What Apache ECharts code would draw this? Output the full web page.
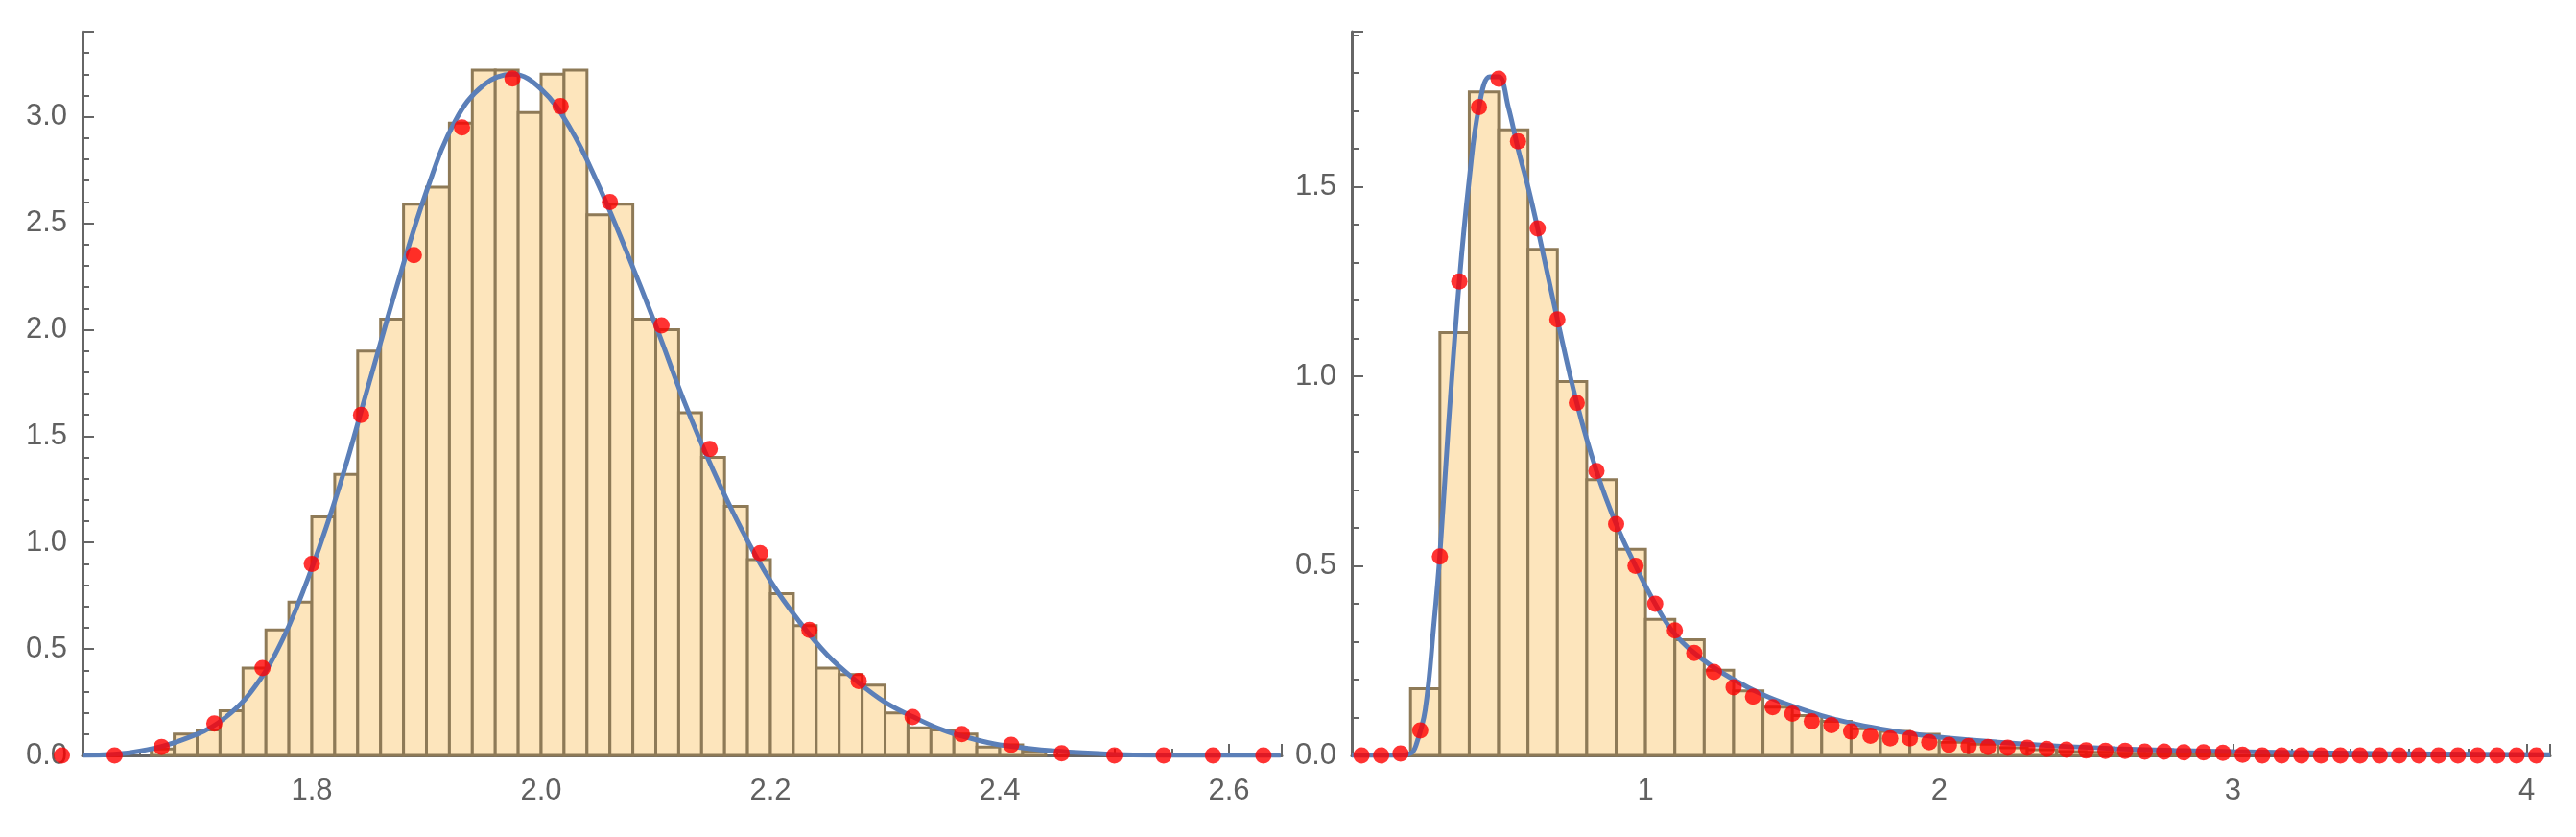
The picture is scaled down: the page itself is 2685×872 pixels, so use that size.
<!DOCTYPE html>
<html><head><meta charset="utf-8">
<script src="https://cdn.jsdelivr.net/npm/echarts@6/dist/echarts.min.js"></script>
<style>html,body{margin:0;padding:0;background:#fff}#c{width:2685px;height:872px}</style>
</head><body><div id="c"></div>
<script>
// Left histogram: bin starts (width 0.02) and heights
const leftBinStart = [1.66,1.68,1.70,1.72,1.74,1.76,1.78,1.80,1.82,1.84,1.86,1.88,1.90,1.92,1.94,1.96,1.98,2.00,2.02,2.04,2.06,2.08,2.10,2.12,2.14,2.16,2.18,2.20,2.22,2.24,2.26,2.28,2.30,2.32,2.34,2.36,2.38,2.40,2.42];
const leftBinHeight = [0.03,0.10,0.12,0.21,0.41,0.59,0.72,1.12,1.32,1.90,2.05,2.59,2.67,2.97,3.22,3.22,3.02,3.20,3.22,2.54,2.59,2.05,2.00,1.61,1.40,1.17,0.92,0.76,0.61,0.41,0.38,0.33,0.20,0.13,0.12,0.10,0.04,0.05,0.02];
const leftBinWidth = 0.02;
const leftDotX = [1.582,1.628,1.669,1.715,1.757,1.800,1.843,1.889,1.931,1.975,2.017,2.060,2.105,2.147,2.191,2.234,2.277,2.324,2.367,2.410,2.454,2.500,2.543,2.586,2.630];
const leftDotY = [0,0,0.04,0.15,0.41,0.90,1.60,2.35,2.95,3.18,3.05,2.60,2.02,1.44,0.95,0.59,0.35,0.18,0.10,0.05,0.01,0,0,0,0];
const leftCurveX = [1.60,1.65,1.70,1.725,1.75,1.775,1.80,1.825,1.85,1.875,1.90,1.925,1.95,1.975,2.00,2.025,2.05,2.075,2.10,2.125,2.15,2.175,2.20,2.225,2.25,2.275,2.30,2.325,2.35,2.375,2.40,2.45,2.50,2.55,2.645];
const leftCurveY = [0.00,0.02,0.10,0.18,0.32,0.55,0.88,1.28,1.75,2.22,2.65,2.98,3.15,3.20,3.13,2.95,2.68,2.36,2.02,1.66,1.34,1.06,0.82,0.63,0.47,0.35,0.25,0.18,0.12,0.08,0.05,0.02,0.005,0,0];

// Right histogram: bin starts (width 0.1) and heights
const rightBinStart = [0.2,0.3,0.4,0.5,0.6,0.7,0.8,0.9,1.0,1.1,1.2,1.3,1.4,1.5,1.6,1.7,1.8,1.9,2.0,2.1,2.2,2.3,2.4,2.5,2.6,2.7,2.8,2.9];
const rightBinHeight = [0.176,1.115,1.75,1.65,1.335,0.986,0.727,0.544,0.359,0.305,0.225,0.17,0.127,0.105,0.09,0.07,0.063,0.056,0.035,0.03,0.02,0.015,0.01,0.008,0.006,0.005,0.004,0.003];
const rightBinWidth = 0.1;
const rightDotX = [0.033,0.1,0.166,0.233,0.3,0.366,0.433,0.5,0.566,0.633,0.7,0.766,0.833,0.9,0.966,1.033,1.1,1.166,1.233,1.3,1.366,1.433,1.5,1.566,1.633,1.7,1.766,1.833,1.9,1.966,2.033,2.1,2.166,2.233,2.3,2.366,2.433,2.5,2.566,2.633,2.7,2.766,2.833,2.9,2.966,3.033,3.1,3.166,3.233,3.3,3.366,3.433,3.5,3.566,3.633,3.7,3.766,3.833,3.9,3.966,4.033];
const rightDotY = [0,0,0.005,0.066,0.525,1.25,1.71,1.785,1.62,1.39,1.15,0.93,0.75,0.61,0.50,0.40,0.33,0.27,0.22,0.18,0.155,0.127,0.11,0.09,0.08,0.063,0.052,0.045,0.045,0.035,0.028,0.025,0.022,0.02,0.02,0.017,0.015,0.013,0.012,0.012,0.01,0.01,0.008,0.008,0.007,0.002,0,0,0,0,0,0,0,0,0,0,0,0,0,0,0];
const rightCurveX = [0,0.15,0.2,0.22,0.25,0.28,0.3,0.33,0.366,0.4,0.433,0.47,0.5,0.533,0.566,0.6,0.633,0.7,0.766,0.833,0.9,0.966,1.033,1.1,1.2,1.3,1.4,1.5,1.6,1.7,1.8,1.9,2.0,2.2,2.4,2.6,2.8,3.0,3.5,4.08];
const rightCurveY = [0,0,0.005,0.03,0.12,0.35,0.53,0.88,1.25,1.52,1.71,1.79,1.79,1.71,1.60,1.50,1.39,1.15,0.93,0.75,0.61,0.50,0.40,0.32,0.25,0.20,0.16,0.13,0.105,0.085,0.07,0.058,0.048,0.035,0.025,0.018,0.013,0.01,0.005,0.002];

const axisCol = '#666';
const lab = {color:'#606060', fontSize:31, fontFamily:'Liberation Sans, Arial'};
function xAx(idx,min,max,interval,split,fmt){return {type:'value',gridIndex:idx,min,max,interval,
  axisLine:{onZero:false,lineStyle:{color:axisCol,width:3}},
  axisTick:{inside:true,length:12,lineStyle:{color:axisCol,width:2}},
  minorTick:{show:true,splitNumber:split,length:7,lineStyle:{color:axisCol,width:2}},
  splitLine:{show:false},axisLabel:{...lab,margin:22,formatter:fmt,showMinLabel:false,showMaxLabel:false}};}
function yAx(idx,max,split){return {type:'value',gridIndex:idx,min:0,max,interval:0.5,
  axisLine:{show:true,lineStyle:{color:axisCol,width:3}},
  axisTick:{show:true,inside:true,length:12,lineStyle:{color:axisCol,width:2}},
  minorTick:{show:true,splitNumber:split,length:7,lineStyle:{color:axisCol,width:2}},
  splitLine:{show:false},axisLabel:{...lab,margin:16,formatter:v=>v.toFixed(1),showMaxLabel:false}};}
function hist(xi,starts,heights,w){return {type:'custom',xAxisIndex:xi,yAxisIndex:xi,
  data:starts.map((s,i)=>[s,heights[i]]),z:1,
  renderItem:(p,api)=>{const a=api.coord([api.value(0),api.value(1)]);const b=api.coord([api.value(0)+w,0]);
    return {type:'rect',shape:{x:a[0],y:a[1],width:b[0]-a[0],height:b[1]-a[1]},
      style:{fill:'#FDE5BC',stroke:'#8E7A57',lineWidth:3}};}};}
function curve(xi,xs,ys){return {type:'line',xAxisIndex:xi,yAxisIndex:xi,smooth:0.4,showSymbol:false,z:3,
  data:xs.map((x,i)=>[x,ys[i]]),lineStyle:{color:'#5B7FB8',width:5}};}
function dots(xi,xs,ys){return {type:'scatter',xAxisIndex:xi,yAxisIndex:xi,clip:false,z:4,symbolSize:17,
  data:xs.map((x,i)=>[x,ys[i]]),itemStyle:{color:'#FF0000'}};}

const chart = echarts.init(document.getElementById('c'));
chart.setOption({
  animation:false,
  grid:[{left:86,top:33,width:1250,height:754},{left:1409,top:33,width:1249,height:754}],
  xAxis:[xAx(0,1.6,2.646,0.2,4,v=>v.toFixed(1)),xAx(1,0,4.08,1,5,v=>String(v))],
  yAxis:[yAx(0,3.40,5),yAx(1,1.909,5)],
  series:[hist(0,leftBinStart,leftBinHeight,leftBinWidth),curve(0,leftCurveX,leftCurveY),dots(0,leftDotX,leftDotY),
          hist(1,rightBinStart,rightBinHeight,rightBinWidth),curve(1,rightCurveX,rightCurveY),dots(1,rightDotX,rightDotY)]
});
</script></body></html>
